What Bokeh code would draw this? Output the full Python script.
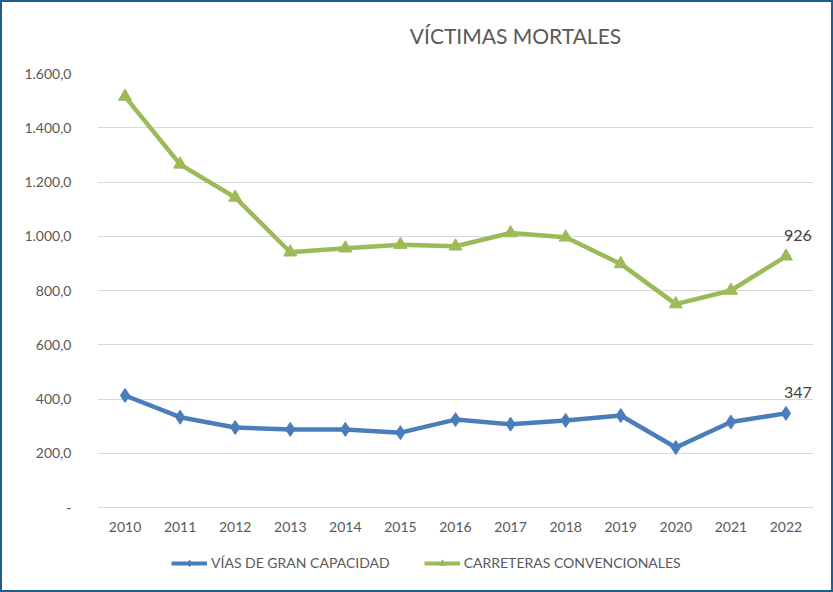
from bokeh.plotting import figure
from bokeh.layouts import column
from bokeh.models import Legend, LegendItem, FixedTicker, Label
from bokeh.core.properties import value
from bokeh.embed import file_html
from bokeh.resources import INLINE

years = ["2010", "2011", "2012", "2013", "2014", "2015", "2016",
         "2017", "2018", "2019", "2020", "2021", "2022"]
vias_gran_capacidad = [413, 333, 295, 288, 288, 276, 324, 307, 321, 339, 221, 315, 347]
carreteras_convencionales = [1515, 1265, 1143, 941, 956, 969, 963, 1012, 996, 898, 750, 800, 926]
y_ticks = [0, 200, 400, 600, 800, 1000, 1200, 1400, 1600]
y_tick_labels = ["-", "200,0", "400,0", "600,0", "800,0", "1.000,0", "1.200,0", "1.400,0", "1.600,0"]
title_text = "VÍCTIMAS MORTALES"
series_names = ["VÍAS DE GRAN CAPACIDAD", "CARRETERAS CONVENCIONALES"]

BLUE = "#4A7EBB"
GREEN = "#9BBB59"
GRAY = "#595959"
FONT = "Lato"

# title strip
tf = figure(width=829, height=50, x_range=(0, 1), y_range=(0, 1),
            output_backend="svg", toolbar_location=None, title=None,
            min_border=0, outline_line_color=None)
tf.axis.visible = False
tf.grid.visible = False
tf.add_layout(Label(x=418, y=17, x_units="screen", y_units="screen",
                    text=title_text, text_align="center", text_baseline="middle",
                    text_font=FONT, text_font_size="21px", text_color=GRAY))

p = figure(x_range=years, y_range=(0, 1600), width=829, height=486,
           output_backend="svg", toolbar_location=None, title=None,
           min_border_left=95, min_border_right=18, min_border_top=21,
           min_border_bottom=31)
p.outline_line_color = None
p.background_fill_color = "white"
p.border_fill_color = "white"

# axes
p.yaxis.ticker = FixedTicker(ticks=y_ticks)
p.yaxis.major_label_overrides = {t: l for t, l in zip(y_ticks, y_tick_labels)}
p.yaxis.axis_line_color = None
p.yaxis.major_tick_line_color = None
p.yaxis.minor_tick_line_color = None
p.yaxis.major_label_text_font = FONT
p.yaxis.major_label_text_font_size = "14px"
p.yaxis.major_label_text_color = GRAY
p.yaxis.major_label_standoff = 20

p.xaxis.axis_line_color = "#D9D9D9"
p.xaxis.major_tick_line_color = None
p.xaxis.minor_tick_line_color = None
p.xaxis.major_label_text_font = FONT
p.xaxis.major_label_text_font_size = "14px"
p.xaxis.major_label_text_color = GRAY
p.xaxis.major_label_standoff = 8

p.xgrid.grid_line_color = None
p.ygrid.grid_line_color = "#D9D9D9"
p.ygrid.grid_line_width = 1.2

# series
p.line(years, vias_gran_capacidad, line_color=BLUE, line_width=4.5)
p.scatter(years, vias_gran_capacidad, marker="diamond", size=14,
          fill_color=BLUE, line_color=BLUE)
p.line(years, carreteras_convencionales, line_color=GREEN, line_width=4.5)
p.scatter(years, carreteras_convencionales, marker="triangle", size=13,
          fill_color=GREEN, line_color=GREEN)

# data labels for last point
last_x = [years[-1], years[-1]]
last_y = [vias_gran_capacidad[-1], carreteras_convencionales[-1]]
last_t = [str(vias_gran_capacidad[-1]), str(carreteras_convencionales[-1])]
p.text(last_x, last_y, text=last_t, x_offset=12, y_offset=-21,
       text_align="center", text_baseline="middle",
       text_font=value(FONT), text_font_size="16px", text_color="#404040")

# legend strip: a small figure holding only the legend; its series copies
# lie outside its visible y range so only the legend shows
lf = figure(width=829, height=52, x_range=years, y_range=(-3000, -2000),
            output_backend="svg", toolbar_location=None, title=None,
            min_border=0, outline_line_color=None)
lf.axis.visible = False
lf.grid.visible = False
r1 = lf.line(years, vias_gran_capacidad, line_color=BLUE, line_width=4)
s1 = lf.scatter(years, vias_gran_capacidad, marker="diamond", size=9,
                fill_color=BLUE, line_color=BLUE)
r2 = lf.line(years, carreteras_convencionales, line_color=GREEN, line_width=4)
s2 = lf.scatter(years, carreteras_convencionales, marker="triangle", size=9,
                fill_color=GREEN, line_color=GREEN)
legend = Legend(items=[LegendItem(label=series_names[0], renderers=[r1, s1]),
                       LegendItem(label=series_names[1], renderers=[r2, s2])],
                orientation="horizontal", location=(74, 19),
                label_text_font=FONT, label_text_font_size="14px",
                label_text_color=GRAY, border_line_color=None,
                background_fill_alpha=0, glyph_width=36, glyph_height=16,
                label_standoff=4, spacing=34, margin=0, padding=4)
lf.add_layout(legend)

layout = column(tf, p, lf, styles={"border": "2px solid #215E8C"})

open("out.html", "w").write(file_html(layout, INLINE))
